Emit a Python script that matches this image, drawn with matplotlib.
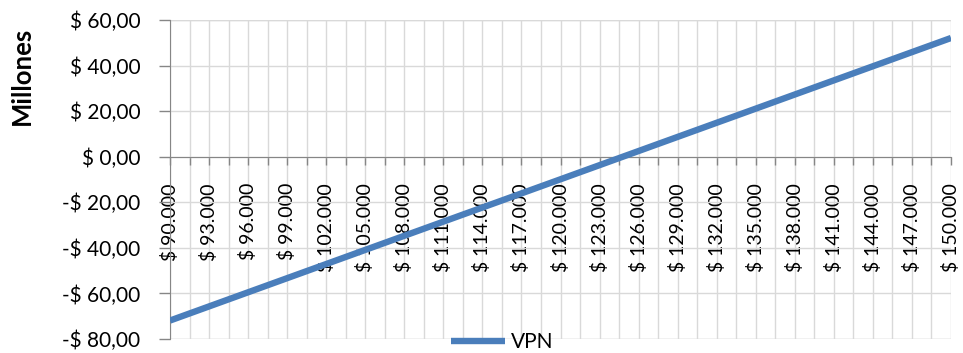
import matplotlib
matplotlib.use("Agg")
import matplotlib.pyplot as plt
from matplotlib.ticker import FixedLocator, FixedFormatter, FuncFormatter

# Sale price scenarios (pesos) and resulting net present value (millions)
precios = [90000, 91500, 93000, 94500, 96000, 97500, 99000, 100500, 102000, 103500,
           105000, 106500, 108000, 109500, 111000, 112500, 114000, 115500, 117000, 118500,
           120000, 121500, 123000, 124500, 126000, 127500, 129000, 130500, 132000, 133500,
           135000, 136500, 138000, 139500, 141000, 142500, 144000, 145500, 147000, 148500,
           150000]
vpn = [-71.9, -68.8, -65.7, -62.6, -59.5, -56.4, -53.3, -50.2, -47.1, -44.0,
       -40.9, -37.8, -34.7, -31.6, -28.5, -25.4, -22.3, -19.2, -16.1, -13.0,
       -9.9, -6.8, -3.7, -0.6, 2.5, 5.6, 8.7, 11.8, 14.9, 18.0,
       21.1, 24.2, 27.3, 30.4, 33.5, 36.6, 39.7, 42.8, 45.9, 49.0,
       52.1]
y_ticks = [-80, -60, -40, -20, 0, 20, 40, 60]

plt.rcParams['font.family'] = ['Lato', 'DejaVu Sans']

W, H = 963, 353
fig = plt.figure(figsize=(W / 100, H / 100), dpi=100)
ax = fig.add_axes([170 / W, 1 - 339 / H, (951 - 170) / W, (339 - 20) / H])

idx = list(range(len(precios)))
line, = ax.plot(idx, vpn, color='#4a7ebb', lw=4.6, solid_capstyle='butt',
                zorder=5, label='VPN')

ax.set_xlim(0, len(precios) - 1)
ax.set_ylim(-80, 60)

def fmt_miles(v):
    return "$ " + f"{v:,.0f}".replace(",", ".")

def fmt_mill(v, pos=None):
    s = f"{abs(v):.2f}".replace(".", ",")
    return ("-$ " if v < 0 else "$ ") + s

ax.spines['bottom'].set_position(('data', 0))

ax.xaxis.set_major_locator(FixedLocator(idx[::2]))
ax.xaxis.set_minor_locator(FixedLocator(idx[1::2]))
ax.xaxis.set_major_formatter(FixedFormatter([fmt_miles(p) for p in precios[::2]]))
ax.set_yticks(y_ticks)
ax.yaxis.set_major_formatter(FuncFormatter(fmt_mill))
ax.tick_params(axis='y', labelsize=15, length=8, width=1, color='#868686',
               pad=13.5, direction='out')
ax.tick_params(axis='x', which='both', length=6, width=1, color='#868686',
               pad=13, direction='out', labelsize=14, labelrotation=90)
for lbl in ax.get_xticklabels():
    lbl.set_va('top')
    lbl.set_ha('center')

ax.grid(True, which='both', axis='x', color='#d9d9d9', lw=1)
ax.grid(True, which='major', axis='y', color='#d9d9d9', lw=1)
ax.set_axisbelow(True)

for s in ['top', 'right']:
    ax.spines[s].set_visible(False)
ax.spines['bottom'].set_color('#868686')
ax.spines['left'].set_color('#868686')
ax.spines['bottom'].set_zorder(3)

# Border lines at the extremes of the plot area
ax.axhline(-80, color='#d9d9d9', lw=1, zorder=0)
ax.axhline(60, color='#d9d9d9', lw=1, zorder=0)

fig.text(22 / W, 1 - 76 / H, 'Millones', rotation=90, ha='center', va='center',
         fontsize=18.5, fontweight='bold')

fig.legend(handles=[line], loc='center', bbox_to_anchor=(502 / W, 1 - 342 / H),
           frameon=False, fontsize=15, handlelength=2.6, handletextpad=0.3,
           borderpad=0)

fig.savefig('out.png', dpi=100)
